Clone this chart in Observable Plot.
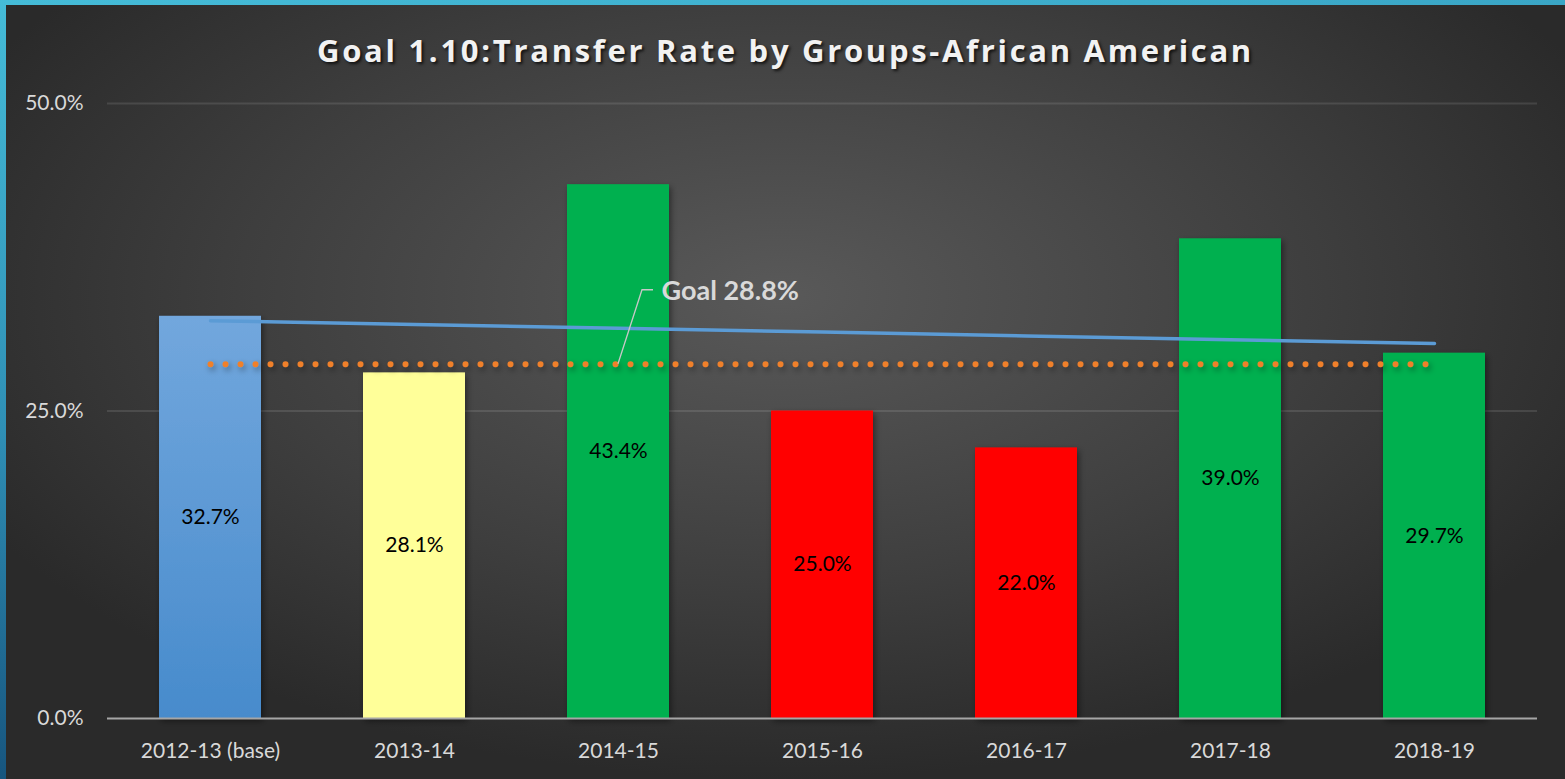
<!DOCTYPE html>
<html><head><meta charset="utf-8">
<script src="https://cdn.jsdelivr.net/npm/d3@7"></script>
<script src="https://cdn.jsdelivr.net/npm/@observablehq/plot@0.6"></script>
<style>
html,body{margin:0;padding:0;background:#2b2b2b;}
#wrap{position:relative;width:1565px;height:779px;overflow:hidden;
 background:radial-gradient(ellipse 58% 62% at 50% 38%, #595959 0%, #3e3e3e 60%, #2a2a2a 100%);}
#topbar{position:absolute;left:0;top:0;width:1565px;height:5px;background:linear-gradient(90deg,#45bcd8,#3aa6c6);}
#leftbar{position:absolute;left:0;top:0;width:6px;height:779px;background:linear-gradient(180deg,#45bcd8,#2f8fb5 55%,#17557e);}
#title{height:80px;line-height:100px;text-align:center;font-family:"Open Sans",sans-serif;font-weight:bold;font-size:31px;letter-spacing:2.7px;color:#f2f2f2;text-shadow:2px 2px 3px rgba(0,0,0,0.7);box-sizing:border-box;padding-left:6px;white-space:nowrap;}
#chart{display:block;}
</style></head>
<body><div id="wrap"><div id="topbar"></div><div id="leftbar"></div>
<div id="title">Goal 1.10:Transfer Rate by Groups-African American</div>
<div id="chart"></div></div>
<script>
const years = ["2012-13 (base)","2013-14","2014-15","2015-16","2016-17","2017-18","2018-19"];
const rates = [0.327,0.281,0.434,0.250,0.220,0.390,0.297];
const status = ["base","near","above","below","below","above","above"];
const goal = 0.288;
const goalLabel = "Goal 28.8%";
const yTicks = [0,0.25,0.5];

const data = years.map((y,i)=>({year:y, rate:rates[i], status:status[i]}));
// least-squares trend over the series
const n = rates.length, xm = (n-1)/2, ym = d3.mean(rates);
const slope = d3.sum(rates,(v,i)=>(i-xm)*(v-ym))/d3.sum(rates,(v,i)=>(i-xm)*(i-xm));
const trend = years.map((y,i)=>({year:y, value: ym + slope*(i-xm)}));
const goalRows = years.map(y=>({year:y, value:goal}));

const fillOf = {base:"url(#baseGrad)", near:"#ffff99", above:"#00b050", below:"#ff0000"};

const leader = (index, scales) => {
  const x0 = scales.x("2014-15") + scales.x.bandwidth()/2;
  const y0 = scales.y(goal);
  const p = document.createElementNS("http://www.w3.org/2000/svg","path");
  p.setAttribute("d",`M${x0},${y0}L${x0+24},${y0-74}L${x0+35},${y0-74}`);
  p.setAttribute("fill","none");
  p.setAttribute("stroke","#c8c8c8");
  p.setAttribute("stroke-width","1.3");
  return p;
};

const plot = Plot.plot({
  width:1565, height:699,
  marginLeft:107, marginRight:28, marginTop:23, marginBottom:61,
  style:{background:"transparent", color:"#d9d9d9", fontFamily:"Lato, sans-serif", overflow:"visible"},
  x:{domain:years, paddingInner:0.5, paddingOuter:0.25, label:null},
  y:{domain:[0,0.5], label:null},
  marks:[
    Plot.gridY([0.25,0.5],{stroke:"#ffffff", strokeOpacity:0.11, strokeWidth:2}),
    Plot.barY(data,{x:"year", y:"rate", fill:d=>fillOf[d.status]}),
    Plot.ruleY([0],{stroke:"#a6a6a6", strokeWidth:2}),
    Plot.line(goalRows,{x:"year", y:"value", stroke:"#f0802c", strokeWidth:6, strokeDasharray:"0,15", strokeLinecap:"round"}),
    Plot.line(trend,{x:"year", y:"value", stroke:"#5b9bd5", strokeWidth:3.5}),
    leader,
    Plot.text([goalLabel],{x:()=>"2014-15", y:()=>goal, text:d=>d, dx:43, dy:-73, textAnchor:"start", fontWeight:"bold", fontSize:27, fill:"#d9d9d9"}),
    Plot.text(data,{x:"year", y:d=>d.rate/2, text:d=>d3.format(".1%")(d.rate), fill:"#000", fontSize:21}),
    Plot.axisY(yTicks,{tickFormat:d3.format(".1%"), tickSize:0, tickPadding:24, fontSize:21, label:null}),
    Plot.axisX({tickSize:0, tickPadding:25, fontSize:21, label:null})
  ]
});

const svg = d3.select(plot);
const defs = svg.insert("defs",":first-child");
const g = defs.append("linearGradient").attr("id","baseGrad").attr("x1",0).attr("y1",0).attr("x2",0).attr("y2",1);
g.append("stop").attr("offset","0%").attr("stop-color","#72a7dd");
g.append("stop").attr("offset","100%").attr("stop-color","#478bcc");
const f = defs.append("filter").attr("id","sh").attr("filterUnits","userSpaceOnUse").attr("x",0).attr("y",0).attr("width",1565).attr("height",699);
f.append("feDropShadow").attr("dx",2).attr("dy",3).attr("stdDeviation",3).attr("flood-color","#000").attr("flood-opacity",0.45);
svg.selectAll("g[aria-label=bar] rect").attr("filter","url(#sh)");
svg.selectAll("g[aria-label=line]").filter((d,i)=>i===0).attr("filter","url(#sh)");
document.getElementById("chart").appendChild(plot);
</script></body></html>
